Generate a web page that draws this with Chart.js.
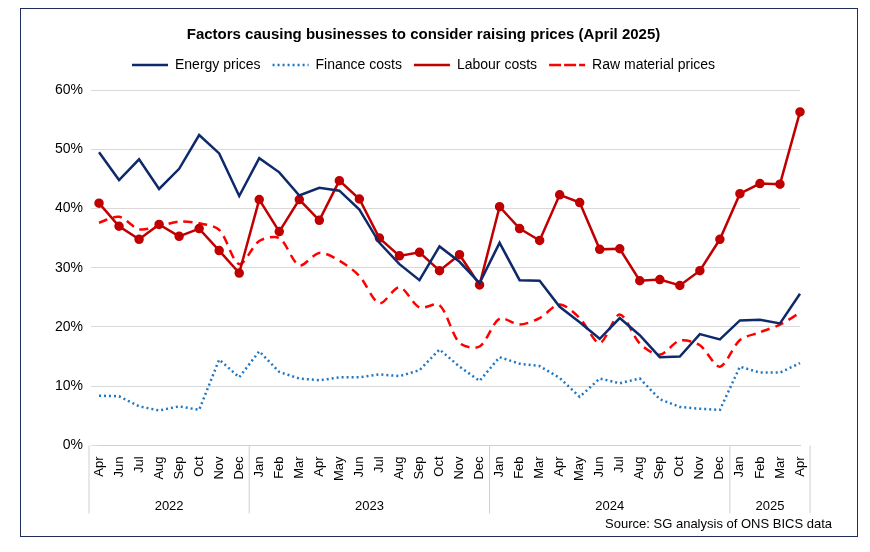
<!DOCTYPE html>
<html><head><meta charset="utf-8">
<script src="https://cdn.jsdelivr.net/npm/chart.js@4"></script>
<style>
html,body{margin:0;padding:0;background:#fff;}
#wrap{position:absolute;left:20px;top:8px;width:838px;height:529px;border:1.5px solid #1f2d5a;box-sizing:border-box;}
canvas{display:block;}
</style></head><body>
<div id="wrap"><canvas id="c" width="835" height="526"></canvas></div>
<script>
const months = ["Apr","Jun","Jul","Aug","Sep","Oct","Nov","Dec",
"Jan","Feb","Mar","Apr","May","Jun","Jul","Aug","Sep","Oct","Nov","Dec",
"Jan","Feb","Mar","Apr","May","Jun","Jul","Aug","Sep","Oct","Nov","Dec",
"Jan","Feb","Mar","Apr"];
const years = [["2022",0,7],["2023",8,19],["2024",20,31],["2025",32,35]];
const energy = [49.5,44.8,48.3,43.3,46.7,52.4,49.3,42.1,48.5,46.1,42.2,43.5,43.0,39.8,34.2,30.6,27.9,33.6,31.0,27.4,34.2,27.9,27.8,23.4,20.8,18.0,21.5,18.6,14.9,15.0,18.8,17.9,21.1,21.2,20.6,25.6];
const finance = [8.4,8.3,6.6,5.9,6.6,6.0,14.5,11.5,15.9,12.4,11.3,11.0,11.5,11.5,12.0,11.7,12.7,16.2,13.3,10.9,14.9,13.8,13.4,11.4,8.2,11.3,10.5,11.3,7.8,6.5,6.2,6.0,13.3,12.3,12.3,13.9];
const labour = [40.9,37.0,34.8,37.3,35.3,36.6,32.9,29.1,41.5,36.1,41.5,38.0,44.7,41.6,35.0,32.0,32.6,29.5,32.2,27.1,40.3,36.6,34.6,42.3,41.0,33.1,33.2,27.8,28.0,27.0,29.5,34.8,42.5,44.2,44.1,56.3];
const raw = [37.6,38.6,36.5,37.0,37.8,37.5,36.4,30.6,34.5,35.0,30.4,32.5,31.2,28.6,24.0,26.7,23.3,23.7,17.3,16.7,21.4,20.4,21.5,23.8,21.5,17.3,22.1,17.2,15.3,17.7,16.9,13.3,17.8,19.1,20.4,22.4];

const F = "Arial, 'Liberation Sans', sans-serif";
const legendGap = {
  id:'legendGap',
  beforeInit(chart){
    const orig=chart.legend.fit;
    chart.legend.fit=function(){orig.bind(chart.legend)(); this.height+=8;};
  }
};
const yearPlugin = {
  id:'years',
  afterDraw(chart){
    const ctx=chart.ctx, x=chart.scales.x, area=chart.chartArea;
    const top=area.bottom, bot=top+68;
    const step=x.getPixelForValue(1)-x.getPixelForValue(0);
    ctx.save();
    ctx.strokeStyle='#d0d0d0'; ctx.lineWidth=1;
    const edges=[x.getPixelForValue(0)-step/2];
    years.forEach(y=>edges.push(x.getPixelForValue(y[2])+step/2));
    edges.forEach(e=>{ctx.beginPath();ctx.moveTo(e,top);ctx.lineTo(e,bot);ctx.stroke();});
    ctx.fillStyle='#000'; ctx.font='13px '+F; ctx.textAlign='center'; ctx.textBaseline='middle';
    years.forEach((y,i)=>{ctx.fillText(y[0],(edges[i]+edges[i+1])/2,top+61);});
    ctx.textAlign='right';
    ctx.fillText('Source: SG analysis of ONS BICS data',chart.width-24,chart.height-11);
    ctx.restore();
  }
};
new Chart(document.getElementById('c'),{
  type:'line',
  data:{labels:months,datasets:[
    {label:'Energy prices',data:energy,borderColor:'#0e2a6b',backgroundColor:'#0e2a6b',borderWidth:2.5,pointRadius:0,tension:0},
    {label:'Finance costs',data:finance,borderColor:'#1f77c4',backgroundColor:'#1f77c4',borderWidth:2.5,borderDash:[2,3],pointRadius:0,tension:0},
    {label:'Labour costs',data:labour,borderColor:'#c00000',backgroundColor:'#c00000',borderWidth:2.5,pointRadius:3.5,pointBackgroundColor:'#c00000',tension:0},
    {label:'Raw material prices',data:raw,borderColor:'#ff0000',backgroundColor:'#ff0000',borderWidth:2.5,borderDash:[9,6],pointRadius:0,tension:0.3}
  ]},
  options:{
    responsive:false,animation:false,
    layout:{padding:{left:26,right:56,top:0,bottom:51}},
    plugins:{
      title:{display:true,text:'Factors causing businesses to consider raising prices (April 2025)',color:'#000',font:{family:F,size:15,weight:'bold'},padding:{top:17,bottom:2}},
      legend:{labels:{color:'#000',font:{family:F,size:14},boxWidth:36,boxHeight:0,padding:12,
        generateLabels(chart){
          return chart.data.datasets.map((d,i)=>({text:d.label,strokeStyle:d.borderColor,fillStyle:d.borderColor,lineWidth:2.5,lineDash:d.borderDash||[],pointStyle:'line',datasetIndex:i,fontColor:'#000'}));
        }}},
      tooltip:{enabled:false}
    },
    scales:{
      x:{grid:{display:false},border:{color:'#d0d0d0'},
        ticks:{color:'#000',font:{family:F,size:13},minRotation:90,maxRotation:90,autoSkip:false}},
      y:{min:0,max:60,border:{display:false},grid:{color:'#d9d9d9'},
        ticks:{stepSize:10,color:'#000',font:{family:F,size:14},callback:v=>v+'%',padding:8}}
    }
  },
  plugins:[legendGap,yearPlugin]
});
</script></body></html>
